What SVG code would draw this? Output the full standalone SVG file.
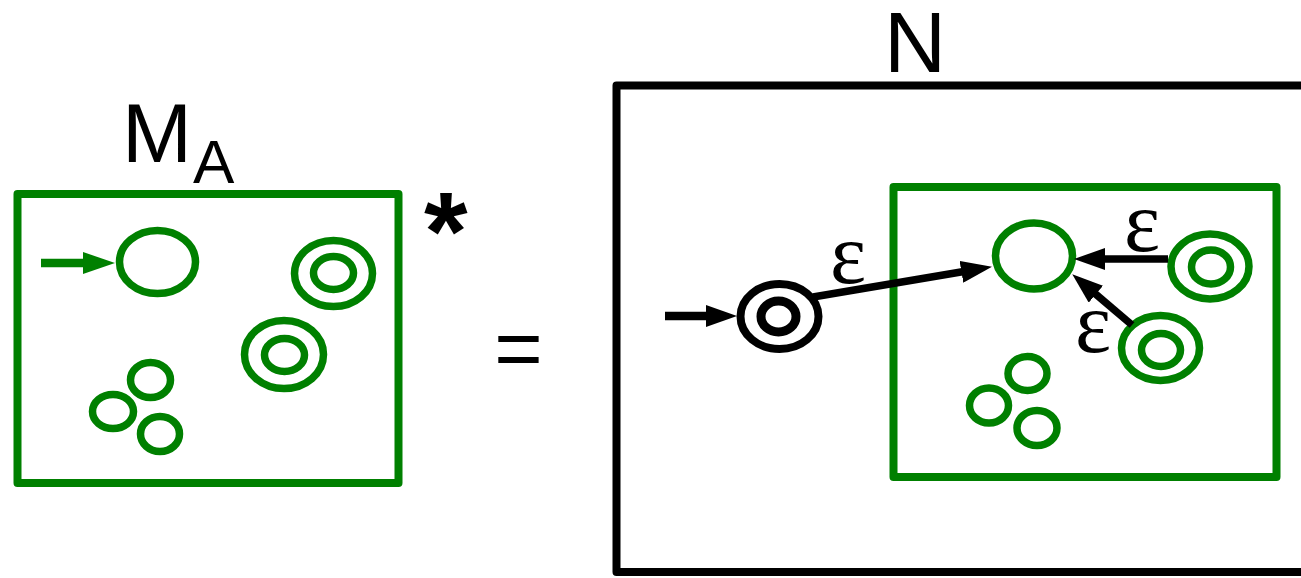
<svg xmlns="http://www.w3.org/2000/svg" width="1301" height="578" viewBox="0 0 1301 578">
<style>
.g{fill:none;stroke:#008000;stroke-width:7.5}
.gb{fill:none;stroke:#008000;stroke-width:8;stroke-linejoin:round}
.k{fill:none;stroke:#000;stroke-width:8}
.kb{fill:none;stroke:#000;stroke-width:8;stroke-linejoin:round}
.lbl{font-family:"Liberation Sans",Arial,sans-serif;fill:#000}
.eps{font-family:"Liberation Serif","Times New Roman",serif;font-size:86px;fill:#000;text-anchor:middle}
</style>
<defs>
<marker id="ak" viewBox="0 -11 31 22" markerWidth="31" markerHeight="22" refX="1" refY="0" orient="auto" markerUnits="userSpaceOnUse"><path d="M0,-11 L31,0 L0,11 z" fill="#000"/></marker>
<marker id="ag" viewBox="0 -11 32 22" markerWidth="32" markerHeight="22" refX="1" refY="0" orient="auto" markerUnits="userSpaceOnUse"><path d="M0,-11 L32,0 L0,11 z" fill="#008000"/></marker>
</defs>
<rect width="1301" height="578" fill="#fff"/>
<g id="MA">
<rect class="gb" x="17.5" y="194" width="381" height="289"/>
<text class="lbl" x="122" y="162" font-size="84">M</text>
<text class="lbl" x="193" y="183" font-size="62">A</text>
<text class="lbl" x="424" y="270" font-size="112" font-weight="bold">*</text>
</g>
<g id="ma-start"><ellipse class="g" cx="157.5" cy="262" rx="38" ry="31.5"/></g>
<g id="ma-acc1"><ellipse class="g" cx="333.5" cy="273.5" rx="39" ry="33"/><ellipse class="g" cx="333.5" cy="273" rx="20" ry="16.5"/></g>
<g id="ma-acc2"><ellipse class="g" cx="284" cy="354.5" rx="39.5" ry="34"/><ellipse class="g" cx="284.5" cy="355" rx="20" ry="16.5"/></g>
<g id="ma-s1"><ellipse class="g" cx="150.5" cy="380" rx="20" ry="17.5"/></g>
<g id="ma-s2"><ellipse class="g" cx="113" cy="411.5" rx="20.5" ry="17"/></g>
<g id="ma-s3"><ellipse class="g" cx="160" cy="434" rx="19.5" ry="17.5"/></g>
<g id="eq"><text class="lbl" x="518.5" y="377" font-size="83" text-anchor="middle">=</text></g>
<g id="N">
<path class="kb" d="M1310,85.5 H616.5 V572 H1310"/>
<text class="lbl" x="884" y="72" font-size="86">N</text>
</g>
<g id="MA-copy"><rect class="gb" x="893.5" y="187" width="383" height="290"/></g>
<g id="n-start"><ellipse class="k" cx="779.5" cy="316.5" rx="39" ry="32.5"/><ellipse cx="778.5" cy="316.5" rx="17.5" ry="15.5" fill="none" stroke="#000" stroke-width="9"/></g>
<g id="n-target"><ellipse class="g" cx="1034" cy="256" rx="38.5" ry="33"/></g>
<g id="n-acc1"><ellipse class="g" cx="1210" cy="266.5" rx="39" ry="32.5"/><ellipse class="g" cx="1211" cy="267" rx="19.5" ry="17"/></g>
<g id="n-acc2"><ellipse class="g" cx="1160.5" cy="348" rx="39" ry="32.5"/><ellipse class="g" cx="1161" cy="350" rx="19.5" ry="16.5"/></g>
<g id="n-s1"><ellipse class="g" cx="1027.5" cy="373.5" rx="19.5" ry="17"/></g>
<g id="n-s2"><ellipse class="g" cx="989" cy="405.5" rx="19.5" ry="17.5"/></g>
<g id="n-s3"><ellipse class="g" cx="1037" cy="428" rx="20" ry="17.5"/></g>
<g id="connectors">
<line x1="41" y1="263" x2="84" y2="263" stroke="#008000" stroke-width="8.5" marker-end="url(#ag)"/>
<line x1="665" y1="316" x2="707" y2="316" stroke="#000" stroke-width="8.5" marker-end="url(#ak)"/>
<line x1="813" y1="297" x2="962.4" y2="271.7" stroke="#000" stroke-width="7.5" marker-end="url(#ak)"/>
<line x1="1168" y1="259" x2="1104" y2="259" stroke="#000" stroke-width="7.5" marker-end="url(#ak)"/>
<line x1="1132" y1="325" x2="1095.1" y2="293.6" stroke="#000" stroke-width="7.5" marker-end="url(#ak)"/>
<text class="eps" x="848" y="283">ε</text>
<text class="eps" x="1142" y="251">ε</text>
<text class="eps" x="1093" y="352">ε</text>
</g>
</svg>
